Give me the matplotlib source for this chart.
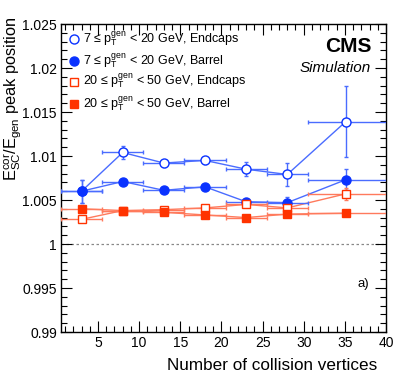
import matplotlib
matplotlib.use("Agg")
import matplotlib.pyplot as plt
import numpy as np

plt.rcParams['font.family'] = ['Liberation Sans', 'DejaVu Sans']
plt.rcParams['mathtext.fontset'] = 'custom'
plt.rcParams['mathtext.rm'] = 'Liberation Sans'
plt.rcParams['mathtext.it'] = 'Liberation Sans:italic'
plt.rcParams['mathtext.bf'] = 'Liberation Sans:bold'

# Data
x_centers = [3, 8, 13, 18, 23, 28, 35.1]
bin_lo = [0.5, 5.5, 10.5, 15.5, 20.5, 25.5, 30.5]
bin_hi = [5.5, 10.5, 15.5, 20.5, 25.5, 30.5, 40.5]

low_endcap = [1.0060, 1.0104, 1.0092, 1.0095, 1.0085, 1.0079, 1.0139]
low_endcap_err = [0.0013, 0.0007, 0.0004, 0.0004, 0.0008, 0.0013, 0.0040]
low_barrel = [1.0060, 1.0071, 1.0061, 1.0065, 1.0048, 1.0047, 1.0073]
low_barrel_err = [0.0013, 0.0002, 0.0002, 0.0002, 0.0002, 0.0006, 0.0012]
high_endcap = [1.0028, 1.0038, 1.0039, 1.0041, 1.0045, 1.0041, 1.0057]
high_endcap_err = [0.0002, 0.0002, 0.0002, 0.0003, 0.0003, 0.0004, 0.0007]
high_barrel = [1.0040, 1.0038, 1.0036, 1.0033, 1.0030, 1.0034, 1.0035]
high_barrel_err = [0.0002, 0.0002, 0.0002, 0.0002, 0.0002, 0.0002, 0.0002]

labels = [r'7 ≤ p$_{\mathrm{T}}^{\mathrm{gen}}$ < 20 GeV, Endcaps',
          r'7 ≤ p$_{\mathrm{T}}^{\mathrm{gen}}$ < 20 GeV, Barrel',
          r'20 ≤ p$_{\mathrm{T}}^{\mathrm{gen}}$ < 50 GeV, Endcaps',
          r'20 ≤ p$_{\mathrm{T}}^{\mathrm{gen}}$ < 50 GeV, Barrel']

fig = plt.figure(figsize=(4.07, 3.83), dpi=100)
ax = fig.add_axes([61/407, 1-332/383, 325/407, 308/383])

xc = np.array(x_centers)
xerr = [xc - np.array(bin_lo), np.array(bin_hi) - xc]

blue_m = '#0a32ff'
blue_l = '#4a6cff'
red_m = '#ff3300'
red_l = '#ff7a5c'

series = [
    (low_endcap, low_endcap_err, 'o', 'none', blue_m, blue_l, 6.5),
    (low_barrel, low_barrel_err, 'o', blue_m, blue_m, blue_l, 6.5),
    (high_endcap, high_endcap_err, 's', 'none', red_m, red_l, 6),
    (high_barrel, high_barrel_err, 's', red_m, red_m, red_l, 6),
]

for vals, errs, mk, mfc, mec, lc, ms in series:
    ax.plot(xc, vals, '-', color=lc, lw=1.0, zorder=2)
    ax.errorbar(xc, vals, yerr=errs, xerr=xerr, fmt='none', ecolor=lc,
                elinewidth=1.0, capsize=1.5, capthick=1.0, zorder=3)
    ax.plot(xc, vals, linestyle='none', marker=mk, markersize=ms,
            markerfacecolor=mfc if mfc != 'none' else 'white',
            markeredgecolor=mec, markeredgewidth=1.0, zorder=4)

ax.axhline(1.0, color='#888888', lw=0.9, ls=(0, (2, 2)), zorder=1)

ax.set_xlim(0.5, 40)
ax.set_ylim(0.99, 1.025)
ax.set_xticks([5, 10, 15, 20, 25, 30, 35, 40])
ax.set_xticks(np.arange(1, 41, 1), minor=True)
yt = [0.99, 0.995, 1.0, 1.005, 1.01, 1.015, 1.02, 1.025]
ax.set_yticks(yt)
ax.set_yticklabels(['0.99', '0.995', '1', '1.005', '1.01', '1.015', '1.02', '1.025'])
ax.set_yticks(np.arange(0.99, 1.0251, 0.001), minor=True)
ax.tick_params(which='both', direction='in', top=True, right=True, labelsize=10, pad=3)
ax.tick_params(which='major', length=8, width=0.8)
ax.tick_params(which='minor', length=4, width=0.8)
for s in ax.spines.values():
    s.set_linewidth(1.0)

ax.set_xlabel('Number of collision vertices', fontsize=12.3, ha='right')
ax.xaxis.set_label_coords((377-61)/325, -(366-332)/308)
ax.xaxis.label.set_va('center')
ax.set_ylabel(r'E$_{\mathrm{SC}}^{\mathrm{cor}}$/E$_{\mathrm{gen}}$ peak position',
              fontsize=11.8, ha='right', va='center')
ax.yaxis.set_label_coords((12-61)/325, (332-16)/308)

# Legend (manual)
rows_y = [39.3, 61, 81.5, 104]
mks = [('o', 'white', blue_m, 6.5), ('o', blue_m, blue_m, 6.5),
       ('s', 'white', red_m, 6), ('s', red_m, red_m, 6)]
for ypx, (mk, mfc, mec, ms), lab in zip(rows_y, mks, labels):
    ya = (332 - ypx) / 308
    ax.plot([(74-61)/325], [ya], marker=mk, markersize=ms, markerfacecolor=mfc,
            markeredgecolor=mec, markeredgewidth=1.0, transform=ax.transAxes,
            clip_on=False, linestyle='none')
    ax.text((83-61)/325, (332 - (ypx + 4.2)) / 308, lab, transform=ax.transAxes,
            fontsize=9, va='baseline', ha='left')

ax.text((371.7-61)/325, (332-52)/308, 'CMS', transform=ax.transAxes,
        fontsize=15, fontweight='bold', ha='right', va='baseline')
ax.text((371-61)/325, (332-71.7)/308, 'Simulation', transform=ax.transAxes,
        fontsize=11, fontstyle='italic', ha='right', va='baseline')
ax.text((369.3-61)/325, (332-287.3)/308, 'a)', transform=ax.transAxes,
        fontsize=9.5, ha='right', va='baseline')

fig.savefig('out.png', dpi=100)
